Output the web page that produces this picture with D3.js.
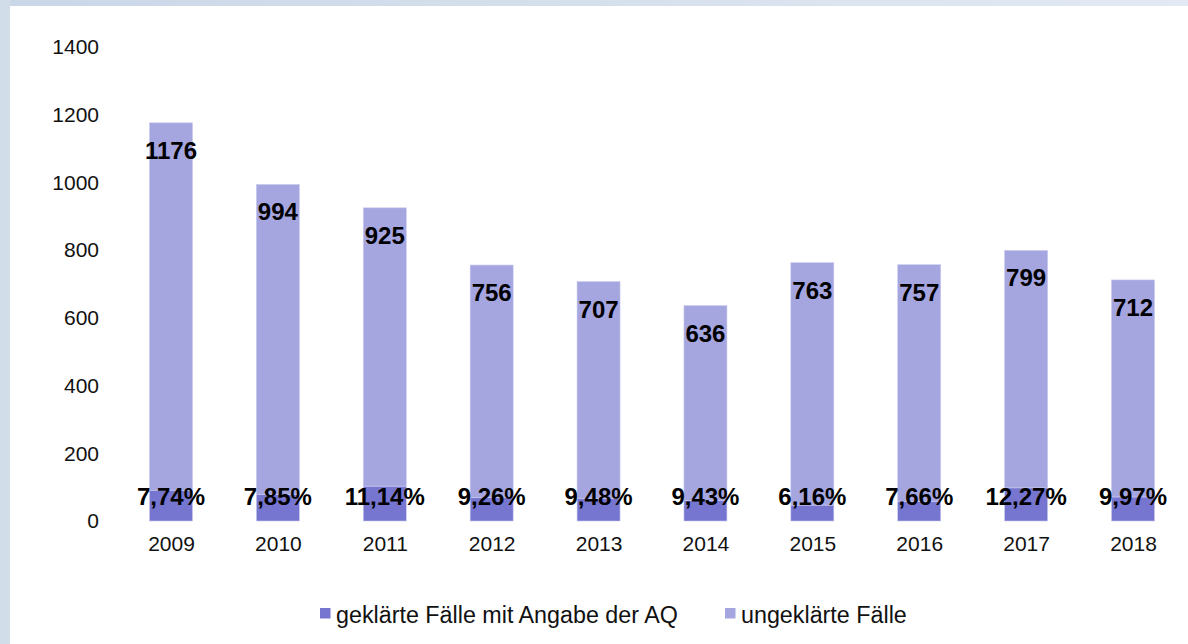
<!DOCTYPE html>
<html lang="de">
<head>
<meta charset="utf-8">
<title>Fälle 2009-2018</title>
<script src="https://cdnjs.cloudflare.com/ajax/libs/d3/7.8.5/d3.min.js"></script>
<style>
  body { margin: 0; background: #fff; }
  svg { display: block; font-family: "Liberation Sans", Arial, sans-serif; }
</style>
</head>
<body>
<div id="chart"></div>
<script>
var years = ["2009", "2010", "2011", "2012", "2013", "2014", "2015", "2016", "2017", "2018"];
var geklaert = [91, 78, 103, 70, 67, 60, 47, 58, 98, 71];
var ungeklaert = [1085, 916, 822, 686, 640, 576, 716, 699, 701, 641];
var totalLabels = ["1176", "994", "925", "756", "707", "636", "763", "757", "799", "712"];
var pctLabels = ["7,74%", "7,85%", "11,14%", "9,26%", "9,48%", "9,43%", "6,16%", "7,66%", "12,27%", "9,97%"];
var yTicks = [0, 200, 400, 600, 800, 1000, 1200, 1400];
var seriesNames = ["geklärte Fälle mit Angabe der AQ", "ungeklärte Fälle"];
var colors = ["#7676d0", "#a5a5e0"];

var W = 1188, H = 644;
var FONT = "Liberation Sans, Arial, sans-serif";
var svg = d3.select("#chart").append("svg").attr("width", W).attr("height", H);

// frame background
var defs = svg.append("defs");
var grad = defs.append("linearGradient").attr("id", "topband");
grad.append("stop").attr("offset", "0%").attr("stop-color", "#cad7e7");
grad.append("stop").attr("offset", "100%").attr("stop-color", "#e2e9f2");
svg.append("rect").attr("width", W).attr("height", 6).attr("fill", "url(#topband)");
svg.append("rect").attr("y", 0).attr("width", 10).attr("height", H).attr("fill", "#d2ddea");

var table = years.map(function (y, i) {
  return { year: y, geklaert: geklaert[i], ungeklaert: ungeklaert[i], total: totalLabels[i], pct: pctLabels[i] };
});
var stack = d3.stack().keys(["geklaert", "ungeklaert"])(table);

var x = d3.scalePoint().domain(years).range([171, 1133]);
var y = d3.scaleLinear().domain([0, 1400]).range([521, 47]);
var barW = 43;

// y axis (labels only)
var yAxis = svg.append("g").attr("transform", "translate(99,0)")
  .call(d3.axisLeft(y).tickValues(yTicks).tickFormat(d3.format("d")).tickSize(0).tickPadding(0));
yAxis.select(".domain").remove();
yAxis.attr("font-size", 21).attr("font-family", FONT);
yAxis.selectAll("text").attr("fill", "#111");

// x axis (labels only)
var xAxis = svg.append("g").attr("transform", "translate(0,536)")
  .call(d3.axisBottom(x).tickSize(0).tickPadding(0));
xAxis.select(".domain").remove();
xAxis.attr("font-size", 21).attr("font-family", FONT);
xAxis.selectAll("text").attr("fill", "#111");

// bars
svg.selectAll("g.series").data(stack).enter().append("g")
  .attr("class", "series")
  .attr("fill", function (d, i) { return colors[i]; })
  .selectAll("rect").data(function (d) { return d; }).enter().append("rect")
  .attr("x", function (d) { return x(d.data.year) - barW / 2; })
  .attr("y", function (d) { return y(d[1]); })
  .attr("width", barW)
  .attr("height", function (d) { return y(d[0]) - y(d[1]); })
  .attr("stroke", "#c9c9ef")
  .attr("stroke-width", 0.6);

// total labels
svg.selectAll("text.total").data(table).enter().append("text")
  .attr("class", "total")
  .attr("x", function (d) { return x(d.year); })
  .attr("y", function (d) { return y(d.geklaert + d.ungeklaert) + 36; })
  .attr("text-anchor", "middle")
  .attr("font-size", 24).attr("font-weight", "bold").attr("fill", "#000")
  .text(function (d) { return d.total; });

// percentage labels
svg.selectAll("text.pct").data(table).enter().append("text")
  .attr("class", "pct")
  .attr("x", function (d) { return x(d.year); })
  .attr("y", 505)
  .attr("text-anchor", "middle")
  .attr("font-size", 24).attr("font-weight", "bold").attr("fill", "#000")
  .text(function (d) { return d.pct; });

// legend
var legendX = [320, 725];
var legend = svg.selectAll("g.legend").data(seriesNames).enter().append("g")
  .attr("class", "legend")
  .attr("transform", function (d, i) { return "translate(" + legendX[i] + ",608)"; });
legend.append("rect").attr("width", 10.5).attr("height", 10.5)
  .attr("fill", function (d, i) { return colors[i]; });
legend.append("text").attr("x", 16).attr("y", 15)
  .attr("font-size", 23.3).attr("fill", "#111")
  .text(function (d) { return d; });
</script>
</body>
</html>
